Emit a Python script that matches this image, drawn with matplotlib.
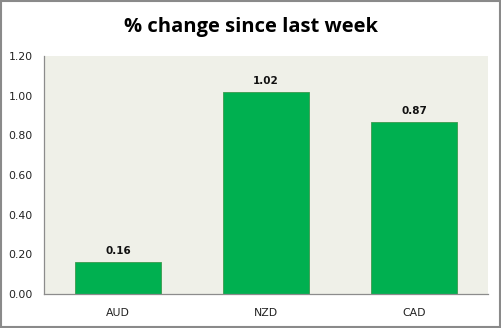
import matplotlib.pyplot as plt
from matplotlib.patches import Rectangle

currencies = ['AUD', 'NZD', 'CAD']
pct_change = [0.16, 1.02, 0.87]
y_ticks = [0.0, 0.2, 0.4, 0.6, 0.8, 1.0, 1.2]

fig = plt.figure(figsize=(5.02, 3.28), dpi=100)
ax = fig.add_axes([0.0876, 0.1037, 0.8845, 0.7253])
ax.set_facecolor('#eff0e8')

bars = ax.bar(currencies, pct_change, width=0.575, color='#00b050',
              edgecolor='#3c9a4e', linewidth=0.6, zorder=2)
for rect, v in zip(bars, pct_change):
    ax.text(rect.get_x() + rect.get_width() / 2, v + 0.03, f'{v:.2f}',
            ha='center', va='bottom', fontsize=7.5, fontweight='bold',
            family='DejaVu Sans', color='#111111')

ax.set_ylim(0, 1.2)
ax.set_xlim(-0.5, 2.5)
ax.set_yticks(y_ticks)
ax.set_yticklabels([f'{t:.2f}' for t in y_ticks])
ax.tick_params(axis='both', length=0, labelsize=7.8, colors='#222222')
ax.tick_params(axis='y', pad=8)
ax.tick_params(axis='x', pad=10)
for side in ['top', 'right']:
    ax.spines[side].set_visible(False)
for side in ['left', 'bottom']:
    ax.spines[side].set_color('#8c8c8c')
    ax.spines[side].set_linewidth(0.9)

fig.text(0.5, 0.918, '% change since last week', ha='center', va='center',
         fontsize=14.5, fontweight='bold', family='Open Sans')

# outer chart border
fig.patches.append(Rectangle((0.002, 0.003), 0.995, 0.993, transform=fig.transFigure,
                             fill=False, edgecolor='#8a8a8a', linewidth=1.5))

fig.savefig('out.png', dpi=100)
